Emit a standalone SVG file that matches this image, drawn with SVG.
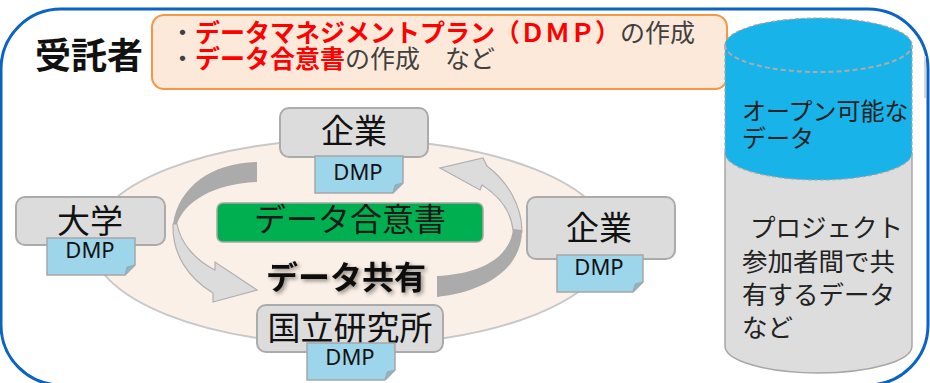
<svg xmlns="http://www.w3.org/2000/svg" width="930" height="383" viewBox="0 0 930 383">
<defs>
<style>
.jp{font-family:"Noto Sans CJK JP","Noto Sans CJK SC",sans-serif;}
.node rect.box{fill:#DCDCDC;stroke:#ABABAB;stroke-width:2;}
.nt{font-size:33px;fill:#111;text-anchor:middle;}
.note{fill:#9DD5EA;stroke:#A6A6A6;stroke-width:1.5;}
.fold{fill:#7FB9D0;stroke:#A6A6A6;stroke-width:1;}
.dmp{font-family:"Noto Sans","Open Sans",sans-serif;font-size:22px;fill:#111;text-anchor:middle;}
.red{fill:#FF0000;font-weight:bold;}
.blk{fill:#404040;}
.dark{fill:#ABABAB;}
.light{fill:#DCDCDC;stroke:#B0B0B0;stroke-width:1.2;}
.cyl{font-family:"Noto Sans CJK JP","Noto Sans CJK SC",sans-serif;fill:#222;}
</style>
<filter id="sh" x="-10%" y="-30%" width="130%" height="170%">
<feGaussianBlur in="SourceAlpha" stdDeviation="2"/>
<feOffset dx="2" dy="2" result="b"/>
<feComponentTransfer><feFuncA type="linear" slope="0.45"/></feComponentTransfer>
<feMerge><feMergeNode/><feMergeNode in="SourceGraphic"/></feMerge>
</filter>
</defs>

<!-- outer frame -->
<rect x="1" y="9" width="927" height="376" rx="60" ry="60" fill="#FFFFFF" stroke="#0B63C4" stroke-width="3"/>
<rect x="924" y="56" width="2" height="42" fill="#D6D6D6"/>

<!-- header -->
<g id="contractor">
<text class="jp" x="35" y="69" font-size="36" font-weight="bold" fill="#111">受託者</text>
</g>
<g id="tasks">
<rect x="152" y="15" width="575" height="74" rx="12" ry="12" fill="#FDE9DA" stroke="#F79646" stroke-width="2"/>
<text class="jp" x="170" y="42" font-size="25"><tspan class="blk">・</tspan><tspan class="red">データマネジメントプラン（ＤＭＰ）</tspan><tspan class="blk">の作成</tspan></text>
<text class="jp" x="170" y="68" font-size="25"><tspan class="blk">・</tspan><tspan class="red">データ合意書</tspan><tspan class="blk">の作成　など</tspan></text>
</g>

<!-- sharing area -->
<g id="sharing-area">
<ellipse cx="351" cy="242" rx="260" ry="103" fill="#FBF0E7" stroke="#C8C8C8" stroke-width="2"/>
</g>

<!-- connectors: circular arrows -->
<g id="connectors">
<path class="light" d="M173,224 C172,254 188,278 213,293 L213,302 L257,290 L215,262 L215,270 C197,261 181,245 177,224 Z"/>
<path class="dark" d="M257,162 C212,163 179,186 173,224 L177,224 C185,201 214,184 257,182 Z"/>
<path class="light" d="M522,232 C522,205 507,181 487,166 L483,158 L440,168 L480,190 L482,185 C499,196 511,211 513,230 Z"/>
<path class="dark" d="M522,230 C522,266 490,291 437,297 L437,276 C480,274 510,258 513,229 Z"/>
</g>

<!-- agreement -->
<g id="agreement">
<rect x="217" y="203" width="266" height="39" rx="6" ry="6" fill="#00B050" stroke="#A6A6A6" stroke-width="1.5"/>
<text class="jp" x="350" y="231" font-size="32" fill="#1A1A1A" text-anchor="middle">データ合意書</text>
</g>
<g id="data-sharing">
<text class="jp" x="346" y="289" font-size="32" font-weight="bold" fill="#111" text-anchor="middle" filter="url(#sh)">データ共有</text>
</g>

<!-- nodes -->
<g id="company-top" class="node">
<rect class="box" x="280" y="108" width="148" height="49" rx="9"/>
<text class="jp nt" x="354" y="143">企業</text>
<path class="note" d="M315,156 h88 v27 l-10,10 h-78 z"/>
<path class="fold" d="M403,183 l-10,10 l2,-8 z"/>
<text class="dmp" x="358" y="180">DMP</text>
</g>

<g id="university" class="node">
<rect class="box" x="16" y="197" width="149" height="48" rx="9"/>
<text class="jp nt" x="90" y="233">大学</text>
<path class="note" d="M47,238 h88 v27 l-10,10 h-78 z"/>
<path class="fold" d="M135,265 l-10,10 l2,-8 z"/>
<text class="dmp" x="90" y="258">DMP</text>
</g>

<g id="company-right" class="node">
<rect class="box" x="527" y="197" width="148" height="62" rx="9"/>
<text class="jp nt" x="599" y="240">企業</text>
<path class="note" d="M557,255 h86 v27 l-10,10 h-76 z"/>
<path class="fold" d="M643,282 l-10,10 l2,-8 z"/>
<text class="dmp" x="599" y="275">DMP</text>
</g>

<g id="national-institute" class="node">
<rect class="box" x="257" y="305" width="186" height="47" rx="9"/>
<text class="jp nt" x="350" y="340">国立研究所</text>
<path class="note" d="M307,343 h88 v27 l-10,10 h-78 z"/>
<path class="fold" d="M395,370 l-10,10 l2,-8 z"/>
<text class="dmp" x="350" y="365">DMP</text>
</g>

<!-- data store cylinder -->
<g id="data-store">
<path d="M725,153 L725,346 A93.5,27 0 0 0 912,346 L912,153 Z" fill="#DDDDDD" stroke="#A6A6A6" stroke-width="1.5"/>
<path d="M725,45 A93.5,27 0 0 1 912,45 L912,153 A93.5,27 0 0 1 725,153 Z" fill="#17B3E9" stroke="#A6A6A6" stroke-width="1.2" stroke-dasharray="4 2"/>
<path d="M725,45 A93.5,27 0 0 0 912,45" fill="none" stroke="#ABABAB" stroke-width="2" stroke-dasharray="5 3"/>
<text class="cyl" font-size="24"><tspan x="742" y="120">オープン可能な</tspan><tspan x="742" y="147">データ</tspan></text>
<text class="cyl" font-size="25.5"><tspan x="750" y="237">プロジェクト</tspan><tspan x="742" y="271">参加者間で共</tspan><tspan x="742" y="304">有するデータ</tspan><tspan x="742" y="337">など</tspan></text>
</g>
</svg>
